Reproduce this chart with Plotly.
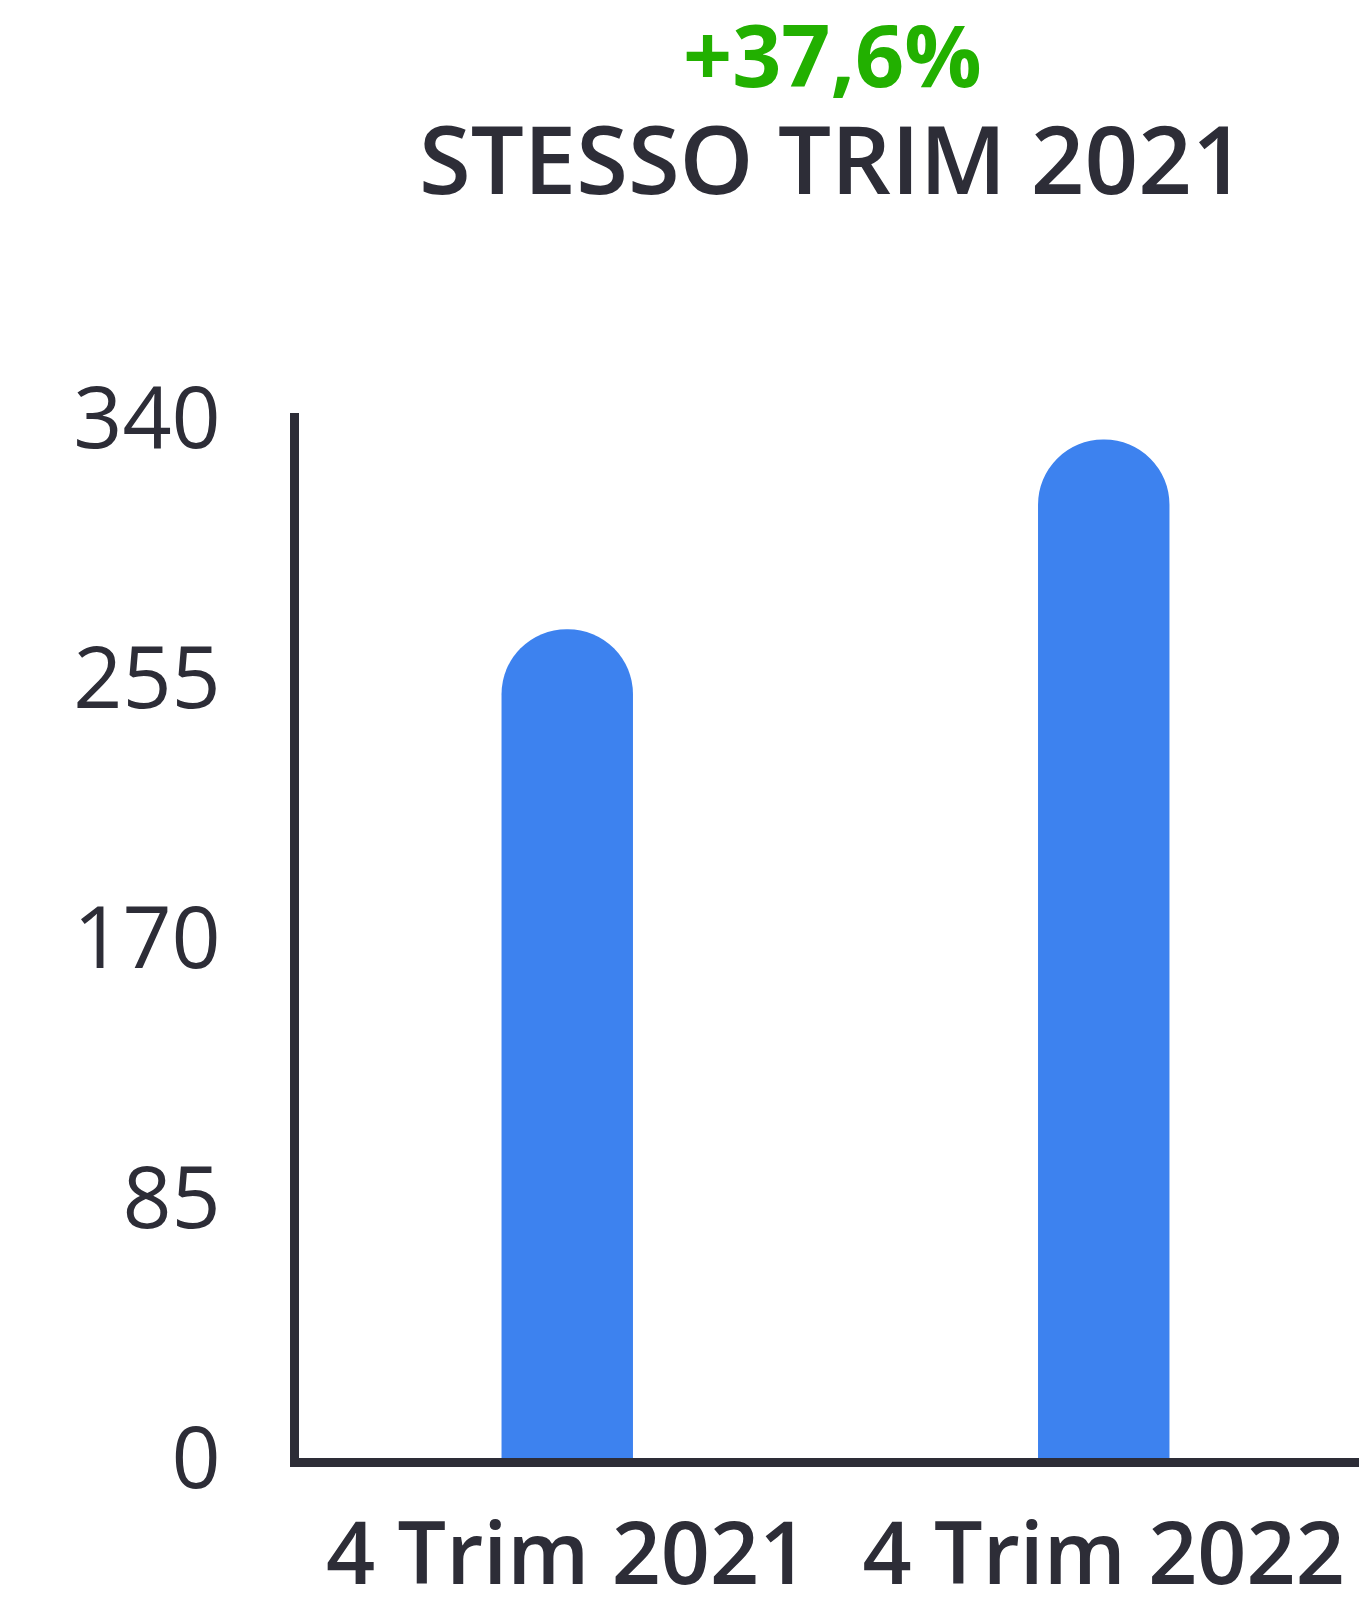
import plotly.graph_objects as go

categories = ["4 Trim 2021", "4 Trim 2022"]
values = [271, 333]
tick_vals = [0, 85, 170, 255, 340]
tick_text = ["0", "85", "170", "255", "340"]
headline = "+37,6%"
subtitle = "STESSO TRIM 2021"

DARK = "#2d2d37"
BLUE = "#3d82ef"
GREEN = "#22b000"
FONT = "Open Sans"

fig = go.Figure(
    go.Bar(
        x=categories,
        y=values,
        marker=dict(color=BLUE, cornerradius="50%", line=dict(width=0)),
        width=0.245,
        hoverinfo="skip",
    )
)

W, H = 1367, 1599
top, bottom = 405, 149
plot_h = H - top - bottom

fig.update_layout(
    width=W,
    height=H,
    margin=dict(l=291, r=3, t=top, b=bottom, autoexpand=False),
    paper_bgcolor="white",
    plot_bgcolor="white",
    showlegend=False,
    font=dict(family=FONT, color=DARK),
)

fig.update_yaxes(
    range=[0, 341.7],
    tickvals=tick_vals,
    ticktext=tick_text,
    showgrid=False,
    zeroline=False,
    showline=True,
    linewidth=9,
    linecolor=DARK,
    ticks="",
    automargin=False,
    ticklabelstandoff=52,
    tickfont=dict(size=86, color=DARK, family=FONT),
)
fig.update_xaxes(
    range=[-0.5, 1.5],
    showgrid=False,
    zeroline=False,
    showline=True,
    linewidth=9,
    linecolor=DARK,
    ticks="",
    automargin=False,
    ticklabelstandoff=14,
    tickfont=dict(size=86, color=DARK, family=FONT, weight=600),
)

fig.add_annotation(
    text="<b>" + headline + "</b>",
    xref="paper", yref="paper",
    x=0.497, y=1 + (top - 45) / plot_h,
    xanchor="center", yanchor="middle",
    showarrow=False, borderpad=0,
    font=dict(size=86, color=GREEN, family=FONT),
)
fig.add_annotation(
    text=subtitle,
    xref="paper", yref="paper",
    x=0.497, y=1 + (top - 150) / plot_h,
    xanchor="center", yanchor="middle",
    showarrow=False, borderpad=0,
    font=dict(size=94, color=DARK, family=FONT, weight=600),
)

fig.write_html("out.html")
